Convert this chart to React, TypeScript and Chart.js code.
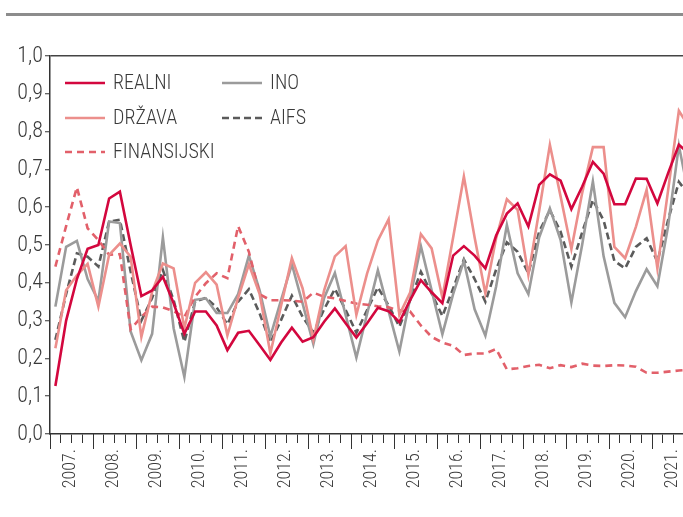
import React, { useEffect, useRef } from 'react';
import { Chart, registerables } from 'chart.js';

Chart.register(...registerables);

const years = ['2007', '2008', '2009', '2010', '2011', '2012', '2013', '2014', '2015', '2016', '2017', '2018', '2019', '2020', '2021'];
const quarters = ['Q1', 'Q2', 'Q3', 'Q4'];
const categories = years.flatMap((y) => quarters.map((q) => `${y} ${q}`));

const realni = [
  0.127, 0.30, 0.41, 0.49, 0.50, 0.623, 0.641, 0.50, 0.365, 0.38,
  0.416, 0.346, 0.265, 0.324, 0.324, 0.287, 0.222, 0.268, 0.273, 0.235,
  0.196, 0.242, 0.281, 0.244, 0.256, 0.297, 0.332, 0.293, 0.255, 0.293,
  0.334, 0.325, 0.296, 0.354, 0.407, 0.375, 0.346, 0.472, 0.497, 0.472,
  0.438, 0.525, 0.583, 0.61, 0.549, 0.659, 0.687, 0.67, 0.595, 0.654,
  0.72, 0.689, 0.608, 0.608, 0.676, 0.675, 0.61, 0.69, 0.765, 0.74,
];
const drzava = [
  0.227, 0.38, 0.42, 0.45, 0.337, 0.474, 0.504, 0.469, 0.257, 0.376,
  0.451, 0.438, 0.28, 0.40, 0.428, 0.395, 0.261, 0.36, 0.449, 0.37,
  0.213, 0.34, 0.465, 0.385, 0.25, 0.38, 0.47, 0.497, 0.315, 0.425,
  0.512, 0.568, 0.315, 0.374, 0.529, 0.491, 0.361, 0.52, 0.681, 0.52,
  0.372, 0.518, 0.621, 0.593, 0.421, 0.59, 0.765, 0.628, 0.489, 0.637,
  0.759, 0.759, 0.495, 0.465, 0.548, 0.646, 0.438, 0.645, 0.855, 0.81,
];
const finansijski = [
  0.443, 0.55, 0.653, 0.544, 0.513, 0.474, 0.476, 0.277, 0.31, 0.337,
  0.335, 0.325, 0.31, 0.363, 0.399, 0.425, 0.412, 0.55, 0.482, 0.37,
  0.354, 0.354, 0.353, 0.35, 0.374, 0.363, 0.359, 0.352, 0.345, 0.342,
  0.338, 0.335, 0.327, 0.324, 0.287, 0.257, 0.242, 0.233, 0.209, 0.213,
  0.213, 0.225, 0.171, 0.174, 0.18, 0.183, 0.174, 0.182, 0.177, 0.186,
  0.181, 0.18, 0.182, 0.181, 0.178, 0.162, 0.162, 0.165, 0.168, 0.17,
];
const ino = [
  0.337, 0.495, 0.511, 0.41, 0.352, 0.562, 0.558, 0.271, 0.195, 0.265,
  0.52, 0.28, 0.151, 0.355, 0.359, 0.32, 0.32, 0.37, 0.472, 0.38,
  0.258, 0.355, 0.449, 0.345, 0.238, 0.36, 0.426, 0.315, 0.202, 0.318,
  0.433, 0.325, 0.218, 0.36, 0.497, 0.38, 0.264, 0.37, 0.458, 0.33,
  0.26, 0.39, 0.553, 0.425, 0.37, 0.52, 0.597, 0.513, 0.348, 0.50,
  0.668, 0.47, 0.347, 0.309, 0.378, 0.436, 0.391, 0.55, 0.763, 0.62,
];
const aifs = [
  0.249, 0.37, 0.478, 0.469, 0.443, 0.562, 0.567, 0.43, 0.30, 0.36,
  0.434, 0.354, 0.244, 0.35, 0.36, 0.335, 0.29, 0.35, 0.383, 0.319,
  0.242, 0.302, 0.366, 0.31, 0.268, 0.33, 0.384, 0.328, 0.268, 0.328,
  0.388, 0.34, 0.284, 0.354, 0.429, 0.372, 0.312, 0.385, 0.462, 0.41,
  0.35, 0.435, 0.507, 0.482, 0.425, 0.535, 0.592, 0.535, 0.443, 0.533,
  0.619, 0.565, 0.458, 0.438, 0.495, 0.518, 0.456, 0.566, 0.667, 0.63,
];

const seriesNames = ['REALNI', 'DRŽAVA', 'FINANSIJSKI', 'INO', 'AIFS'];
const seriesData = [realni, drzava, finansijski, ino, aifs];
const seriesColors = ['#d3073e', '#ec8f8c', '#e2606a', '#9b9b9b', '#5b5b5b'];
const seriesDash: number[][] = [[], [], [7, 5], [], [7, 4]];
const legendColumns = [[0, 1, 2], [3, 4]];

const FONT = "'Liberation Sans Narrow', 'Roboto Condensed', 'Open Sans Condensed', 'DejaVu Sans Condensed', sans-serif";
const TEXT = '#3a3a3a';

const legendPlugin = {
  id: 'twoColumnLegend',
  afterDraw(chart: any) {
    const { ctx, chartArea } = chart;
    const colX = [chartArea.left + 15, chartArea.left + 172];
    const rowY = [chartArea.top + 27, chartArea.top + 62, chartArea.top + 96];
    ctx.save();
    legendColumns.forEach((col, c) => {
      col.forEach((di, r) => {
        const ds = chart.data.datasets[di];
        const x = colX[c];
        const y = rowY[r];
        ctx.beginPath();
        ctx.setLineDash(ds.borderDash || []);
        ctx.strokeStyle = ds.borderColor;
        ctx.lineWidth = ds.borderWidth;
        ctx.moveTo(x, y);
        ctx.lineTo(x + 40, y);
        ctx.stroke();
        ctx.setLineDash([]);
        ctx.fillStyle = TEXT;
        ctx.font = `300 20px ${FONT}`;
        ctx.textBaseline = 'middle';
        ctx.textAlign = 'left';
        ctx.fillText(ds.label, x + 48, y + 1);
      });
    });
    ctx.restore();
  },
};

const majorTickPlugin = {
  id: 'majorTicks',
  afterDraw(chart: any) {
    const xs = chart.scales.x;
    const { ctx } = chart;
    ctx.save();
    ctx.strokeStyle = '#333333';
    ctx.lineWidth = 1;
    for (let i = 0; i <= categories.length; i += quarters.length) {
      const px = Math.round(xs.getPixelForValue(i - 0.5)) + 0.5;
      ctx.beginPath();
      ctx.moveTo(px, xs.top);
      ctx.lineTo(px, xs.top + 15);
      ctx.stroke();
    }
    ctx.restore();
  },
};

export default function App() {
  const ref = useRef<HTMLCanvasElement | null>(null);

  useEffect(() => {
    if (!ref.current) return;
    const chart = new Chart(ref.current, {
      type: 'line',
      data: {
        labels: categories,
        datasets: seriesNames.map((name, i) => ({
          label: name,
          data: seriesData[i],
          borderColor: seriesColors[i],
          backgroundColor: seriesColors[i],
          borderWidth: 2.6,
          borderDash: seriesDash[i],
          pointRadius: 0,
          tension: 0,
          fill: false,
        })),
      },
      options: {
        animation: false,
        responsive: false,
        devicePixelRatio: 1,
        layout: { padding: { top: 56, left: 0, right: 0, bottom: 0 } },
        plugins: {
          legend: { display: false },
          tooltip: { enabled: false },
        },
        scales: {
          x: {
            type: 'category',
            offset: true,
            grid: {
              offset: true,
              drawOnChartArea: false,
              tickLength: 9,
              tickColor: '#333333',
              tickWidth: 1,
            },
            border: { display: true, color: '#333333', width: 1.5 },
            ticks: {
              autoSkip: false,
              maxRotation: 90,
              minRotation: 90,
              padding: 6,
              labelOffset: 4,
              color: TEXT,
              font: { family: FONT, size: 18, weight: '300' },
              callback: (_v: any, index: number) =>
                index % quarters.length === 1 ? `${years[Math.floor(index / quarters.length)]}.` : '',
            },
            afterFit: (scale: any) => {
              scale.height = 83;
              scale.paddingLeft = 0;
              scale.paddingRight = 0;
            },
          },
          y: {
            min: 0,
            max: 1,
            grid: {
              color: (c: any) => (c.tick && Math.abs(c.tick.value - 1) < 1e-6 ? '#444444' : 'transparent'),
              lineWidth: 1.5,
              tickColor: '#333333',
              tickLength: 5,
              tickWidth: 1,
            },
            border: { display: true, color: '#333333', width: 1.5 },
            ticks: {
              stepSize: 0.1,
              padding: 2,
              color: TEXT,
              font: { family: FONT, size: 22, weight: '300' },
              callback: (v: any) => Number(v).toFixed(1).replace('.', ','),
            },
            afterFit: (scale: any) => {
              scale.width = 50;
              scale.paddingTop = 0;
              scale.paddingBottom = 0;
            },
          },
        },
      },
      plugins: [legendPlugin, majorTickPlugin],
    });
    return () => chart.destroy();
  }, []);

  return (
    <div
      style={{
        position: 'fixed',
        left: 0,
        top: 0,
        width: 683,
        height: 517,
        overflow: 'hidden',
        background: '#ffffff',
      }}
    >
      <div
        style={{
          position: 'absolute',
          left: 6,
          top: 13,
          width: 677,
          height: 3,
          background: '#8c8c8c',
        }}
      />
      <canvas ref={ref} width={695} height={517} style={{ display: 'block', width: 695, height: 517 }} />
    </div>
  );
}
